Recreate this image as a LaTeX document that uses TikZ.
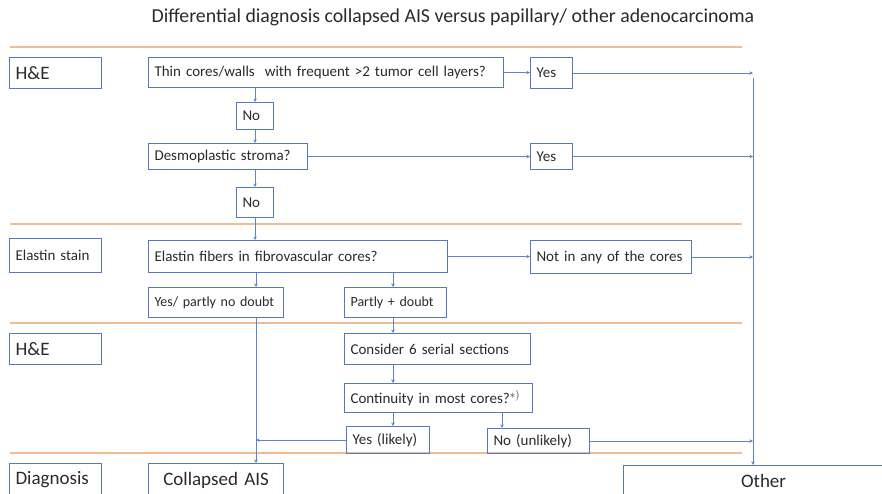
\documentclass[tikz,border=0pt]{standalone}
\usepackage{fontspec}
\setmainfont{Carlito}
\usetikzlibrary{arrows.meta, positioning}
\definecolor{boxblue}{RGB}{84,120,196}
\definecolor{linkblue}{RGB}{92,132,208}
\definecolor{bandorange}{RGB}{240,188,148}
\definecolor{inkgray}{RGB}{42,42,42}
\newcommand{\smalltxt}{\fontsize{15}{17}\selectfont}
\newcommand{\tinytxt}{\fontsize{14}{16}\selectfont}
\newcommand{\bigtxt}{\fontsize{19}{21}\selectfont}
\tikzset{
    qbox/.style={draw=boxblue, line width=1.1pt, text=inkgray, font=\smalltxt,
        inner xsep=6pt, inner ysep=0pt, align=left, anchor=north west},
    abox/.style={qbox, font=\tinytxt},
    labbox/.style={qbox, font=\bigtxt},
    link/.style={draw=linkblue, line width=0.9pt, -{Stealth[length=3.5pt, width=3.5pt]}},
    band/.style={draw=bandorange, line width=1.2pt},
}

\begin{document}
\begin{tikzpicture}[x=1pt, y=-1pt]

    \clip (0,0) rectangle (882,494);

    \node[text=inkgray, font=\fontsize{19.8}{22}\selectfont] (title) at (453,17)
        {Differential diagnosis collapsed AIS versus papillary/ other adenocarcinoma};

    % ---------------- row separators ----------------
    \draw[band] (10,47) -- (742,47);
    \draw[band] (10,224) -- (742,224);
    \draw[band] (10,323) -- (742,323);
    \draw[band] (10,453) -- (742,453);

    % ---------------- method labels ----------------
    \node[labbox, minimum height=31pt, text width=80pt] (lab1) at (9,57) {H\&E};
    \node[qbox, minimum height=34pt, text width=80pt] (lab2) at (9,238) {Elastin stain};
    \node[labbox, minimum height=31pt, text width=80pt] (lab3) at (9,333) {H\&E};
    \node[labbox, minimum height=33pt, text width=80pt] (lab4) at (9,463) {Diagnosis};

    % ---------------- H&E questions ----------------
    \node[qbox, minimum height=30pt, text width=343pt] (q1) at (148,57)
        {Thin cores/walls~ with frequent >2 tumor cell layers?};
    \node[qbox, minimum height=31pt, text width=30pt] (y1) at (530,57) {Yes};
    \node[qbox, minimum height=27pt, text width=25pt] (n1) at (236,102) {No};
    \node[qbox, minimum height=26pt, text width=147pt] (q2) at (148,143) {Desmoplastic stroma?};
    \node[qbox, minimum height=26pt, text width=30pt] (y2) at (530,143) {Yes};
    \node[qbox, minimum height=30pt, text width=25pt] (n2) at (236,187) {No};

    % ---------------- elastin ----------------
    \node[qbox, minimum height=32pt, text width=287pt] (q3) at (148,240)
        {Elastin fibers in fibrovascular cores?};
    \node[qbox, minimum height=33pt, text width=149pt] (y3) at (530,240) {Not in any of the cores};
    \node[abox, minimum height=30pt, text width=123pt] (a1) at (148,287) {Yes/ partly no doubt};
    \node[abox, minimum height=30pt, text width=90pt] (a2) at (344,287) {Partly + doubt};

    % ---------------- serial sections ----------------
    \node[qbox, minimum height=31pt, text width=174pt] (s1) at (344,333) {Consider 6 serial sections};
    \node[qbox, minimum height=29pt, text width=176pt] (q4) at (344,383)
        {Continuity in most cores?$^{*)}$};
    \node[qbox, minimum height=27pt, text width=71pt] (b1) at (346,426) {Yes (likely)};
    \node[qbox, minimum height=25pt, text width=90pt] (b2) at (487,428) {No (unlikely)};

    % ---------------- outcomes ----------------
    \node[labbox, minimum height=33pt, text width=123pt, align=center] (d1) at (148,463) {Collapsed AIS};
    \node[labbox, minimum height=31pt, text width=268pt, align=center] (d2) at (623,465) {Other};

    % ---------------- connectors ----------------
    \coordinate (rail) at (753,78);
    \coordinate (colA) at (256,0);
    \coordinate (colB) at (393,0);
    \coordinate (colC) at (502,0);

    \draw[link] (q1.east) -- (q1.east -| y1.west);
    \draw[link] (y1.east) -- (y1.east -| rail);
    \draw[link] (n1.north |- q1.south) -- (n1.north);
    \draw[link] (n1.south) -- (n1.south |- q2.north);
    \draw[link] (q2.east) -- (q2.east -| y2.west);
    \draw[link] (y2.east) -- (y2.east -| rail);
    \draw[link] (n2.north |- q2.south) -- (n2.north);
    \draw[link] (n2.south) -- (n2.south |- q3.north);
    \draw[link] (q3.east) -- (q3.east -| y3.west);
    \draw[link] (y3.east) -- (y3.east -| rail);
    \draw[link] (q3.south -| colA) -- (a1.north -| colA);
    \draw[link] (q3.south -| colB) -- (a2.north -| colB);
    \draw[link] (a2.south -| colB) -- (s1.north -| colB);
    \draw[link] (s1.south -| colB) -- (q4.north -| colB);
    \draw[link] (q4.south -| colB) -- (b1.north -| colB);
    \draw[link] (q4.south -| colC) -- (b2.north -| colC);
    \draw[link] (b1.west) -- (b1.west -| colA);
    \draw[link] (a1.south -| colA) -- (d1.north -| colA);
    \draw[link] (b2.east) -- (b2.east -| rail);
    \draw[link] (rail) -- (rail |- d2.north);

\end{tikzpicture}
\end{document}
